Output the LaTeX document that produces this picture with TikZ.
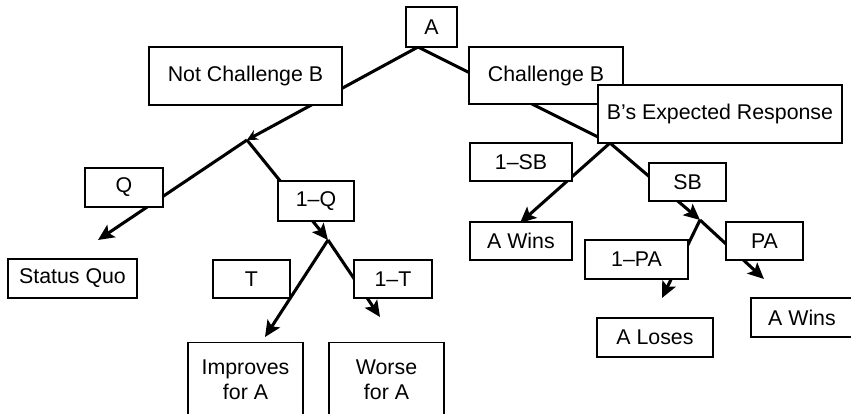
\documentclass[tikz,border=0pt]{standalone}
\usepackage{fontspec}
\setmainfont{Liberation Sans}
\usetikzlibrary{arrows.meta}
\tikzset{every picture/.style={line width=0.75pt}}
\tikzset{
  box/.style 2 args={draw, fill=white, line width=1pt, inner sep=0pt, align=center,
    minimum width=#1*0.75pt, minimum height=#2*0.75pt, font=\fontsize{16}{19}\selectfont},
  branch/.style={line width=2.3pt},
  tip/.style={-{Stealth[length=12pt,width=11pt,inset=2.5pt]}},
}

\begin{document}
\begin{tikzpicture}[x=0.75pt,y=0.75pt,yscale=-1,xscale=1]
\useasboundingbox (0,0) rectangle (851,414);

%Branch points and arrow ends
\coordinate (top) at (418,47);
\coordinate (notsplit) at (247,140);
\coordinate (chalsplit) at (610,143);
\coordinate (qsplit) at (328,240);
\coordinate (pasplit) at (700,220);
\coordinate (sqtip) at (98,240);
\coordinate (imptip) at (265,337);
\coordinate (wortip) at (380,317);
\coordinate (winatip) at (520,223);
\coordinate (losetip) at (662,298);
\coordinate (winbtip) at (764,279);

%Straight Lines
\draw [branch, -{Stealth[length=8pt,width=8pt]}] (top) -- (notsplit);
\draw [branch] (top) -- (chalsplit);
%Straight Lines
\draw [branch, tip] (notsplit) -- (sqtip);
\draw [branch, tip] (notsplit) -- (qsplit);
\draw [branch, tip] (qsplit) -- (imptip);
\draw [branch, tip] (qsplit) -- (wortip);
%Straight Lines
\draw [branch, tip] (chalsplit) -- (winatip);
\draw [branch, tip] (chalsplit) -- (pasplit);
\draw [branch, tip] (pasplit) -- (losetip);
\draw [branch, tip] (pasplit) -- (winbtip);

% Text Node
\node [box={51}{40}] (a) at (431.5,27) {A};
% Text Node
\node [box={193}{58}] (notchal) at (245.5,76) {Not Challenge B};
% Text Node
\node [box={154}{57}] (chal) at (546,75.5) {Challenge B};
% Text Node
\node [box={244}{58}] (resp) at (720,114) {B’s Expected Response};
% Text Node
\node [box={78}{39}] (q) at (124,187.5) {Q};
% Text Node
\node [box={76}{40}] (oneq) at (316,201) {1–Q};
% Text Node
\node [box={129}{39}] (status) at (72.5,278.5) {Status Quo};
% Text Node
\node [box={77}{38}] (t) at (251.5,279) {T};
% Text Node
\node [box={78}{38}] (onet) at (393,279) {1–T};
% Text Node
\node [box={115}{74}] (improves) at (245.5,379.5) {Improves\\for A};
% Text Node
\node [box={115}{74}] (worse) at (386.5,379.5) {Worse\\for A};
% Text Node
\node [box={102}{38}] (onesb) at (521,162) {1–SB};
% Text Node
\node [box={77}{38}] (sb) at (687.5,182) {SB};
% Text Node
\node [box={102}{38}] (wina) at (521,241) {A Wins};
% Text Node
\node [box={103}{39}] (onepa) at (636.5,259.5) {1–PA};
% Text Node
\node [box={77}{38}] (pa) at (764.5,241) {PA};
% Text Node
\node [box={116}{39}] (loses) at (655,337.5) {A Loses};
% Text Node
\node [box={102}{39}] (winb) at (802,317.5) {A Wins};
\end{tikzpicture}
\end{document}
